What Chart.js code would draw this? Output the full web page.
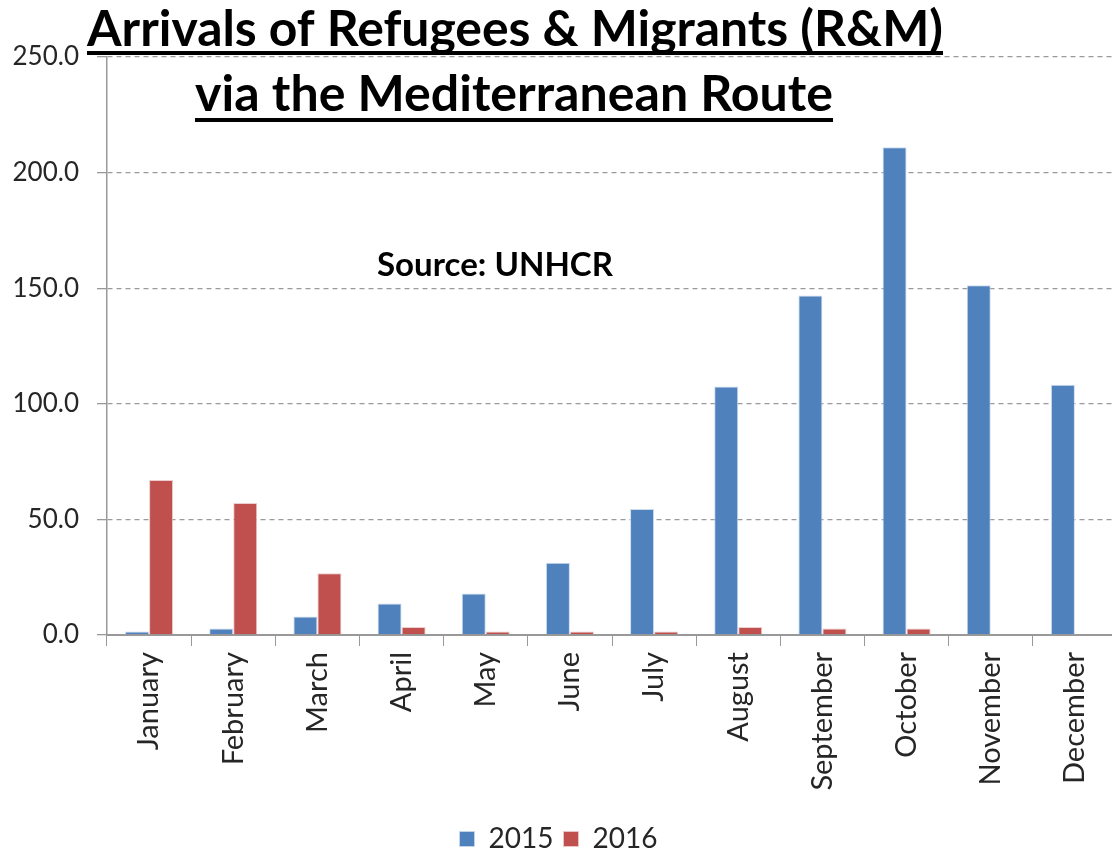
<!DOCTYPE html>
<html>
<head>
<meta charset="utf-8">
<script src="https://cdn.jsdelivr.net/npm/chart.js@4/dist/chart.umd.min.js"></script>
<style>
  html, body { margin: 0; padding: 0; background: #fff; overflow: hidden; }
  #wrap { position: relative; width: 1118px; height: 851px; }
</style>
</head>
<body>
<div id="wrap"><canvas id="arrivalsChart"></canvas></div>
<script>
/*** Data ***/
const months = ['January', 'February', 'March', 'April', 'May', 'June',
                'July', 'August', 'September', 'October', 'November', 'December'];
const arrivals2015 = [1.5, 2.8, 8.0, 13.6, 17.9, 31.3, 54.5, 107.5, 146.8, 211.0, 151.3, 108.2];
const arrivals2016 = [67.0, 57.1, 26.7, 3.5, 1.5, 1.5, 1.5, 3.5, 2.8, 2.8, null, null];
const yTicks = [0, 50, 100, 150, 200, 250];

const titleLines = ['Arrivals of Refugees & Migrants (R&M)', 'via the Mediterranean Route'];
const sourceText = 'Source: UNHCR';

/*** Font ***/
Chart.defaults.font.family = 'Lato, "Open Sans", sans-serif';
Chart.defaults.color = '#262626';

/*** Draws text at a target width, optionally underlined ***/
function fitText(ctx, text, cx, baseline, width, underline) {
    ctx.font = 'bold 40px Lato';
    let size = 40 * width / ctx.measureText(text).width;
    ctx.font = 'bold ' + size + 'px Lato';
    ctx.textAlign = 'center';
    ctx.textBaseline = 'alphabetic';
    ctx.fillStyle = '#000';
    ctx.fillText(text, cx, baseline);
    if (underline) {
        ctx.fillRect(cx - width / 2, underline - 2, width, 4);
    }
}

const titlePlugin = {
    id: 'overlayText',
    afterDraw(chart) {
        const ctx = chart.ctx;
        ctx.save();
        fitText(ctx, titleLines[0], 515, 46, 856, 53);
        fitText(ctx, titleLines[1], 514, 111, 638, 120);
        fitText(ctx, sourceText, 495, 276, 236, null);
        ctx.restore();
    }
};

const arrivalsChart = new Chart(document.getElementById('arrivalsChart'), {
    type: 'bar',
    data: {
        labels: months,
        datasets: [
            {
                label: '2015',
                data: arrivals2015,
                backgroundColor: '#4F81BD',
                borderColor: 'rgba(200, 215, 235, 0.9)',
                borderWidth: 1,
                borderSkipped: 'bottom',
                categoryPercentage: 0.571,
                barPercentage: 1.0
            },
            {
                label: '2016',
                data: arrivals2016,
                backgroundColor: '#C0504D',
                borderColor: 'rgba(235, 200, 200, 0.9)',
                borderWidth: 1,
                borderSkipped: 'bottom',
                categoryPercentage: 0.571,
                barPercentage: 1.0
            }
        ]
    },
    options: {
        responsive: true,
        maintainAspectRatio: false,
        animation: false,
        layout: {
            padding: { top: 57, left: 0, right: 1, bottom: -12 }
        },
        plugins: {
            tooltip: { enabled: false },
            legend: {
                position: 'bottom',
                labels: {
                    boxWidth: 15,
                    boxHeight: 15,
                    padding: 10,
                    font: { size: 28 }
                }
            }
        },
        scales: {
            x: {
                offset: true,
                grid: {
                    offset: true,
                    drawOnChartArea: false,
                    drawTicks: true,
                    tickLength: 11,
                    color: '#999'
                },
                border: { display: true, color: '#999', width: 2 },
                ticks: {
                    autoSkip: false,
                    maxRotation: 90,
                    minRotation: 90,
                    padding: 6,
                    font: { size: 29 }
                },
                afterFit: function (scale) { scale.height = 180; }
            },
            y: {
                min: 0,
                max: 250,
                afterBuildTicks: function (scale) {
                    scale.ticks = yTicks.map(function (v) { return { value: v }; });
                },
                grid: {
                    color: function (ctx) { return ctx.tick && ctx.tick.value === 0 ? 'rgba(0,0,0,0)' : '#9a9a9a'; },
                    tickColor: '#999',
                    tickLength: 10,
                    lineWidth: 1.3
                },
                border: { display: true, color: '#999', width: 1.5, dash: [5, 4] },
                ticks: {
                    padding: 18,
                    font: { size: 26 },
                    callback: function (value) { return value.toFixed(1); }
                },
                afterFit: function (scale) { scale.width = 107; }
            }
        }
    },
    plugins: [titlePlugin]
});
</script>
</body>
</html>
